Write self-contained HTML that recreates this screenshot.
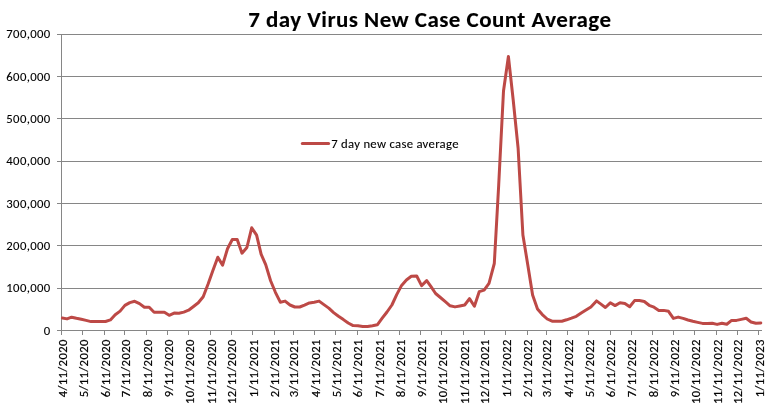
<!DOCTYPE html><html><head><meta charset="utf-8"><title>7 day Virus New Case Count Average</title>
<style>html,body{margin:0;padding:0;background:#fff;}svg{display:block;}text{font-family:Carlito, 'Liberation Sans', sans-serif;fill:#000;stroke:#000;stroke-width:0.1px;}</style></head><body>
<svg width="784" height="410" viewBox="0 0 784 410">
<rect width="784" height="410" fill="#fff"/>
<path d="M57 34.5H762M57 76.5H762M57 118.5H762M57 161.5H762M57 203.5H762M57 245.5H762M57 288.5H762M57 330.5H762M61.5 34V335M61.5 330V335M82.5 330V335M104.5 330V335M124.5 330V335M146.5 330V335M167.5 330V335M188.5 330V335M210.5 330V335M231.5 330V335M252.5 330V335M274.5 330V335M293.5 330V335M314.5 330V335M335.5 330V335M357.5 330V335M378.5 330V335M399.5 330V335M420.5 330V335M441.5 330V335M463.5 330V335M484.5 330V335M505.5 330V335M527.5 330V335M546.5 330V335M567.5 330V335M588.5 330V335M610.5 330V335M631.5 330V335M652.5 330V335M673.5 330V335M694.5 330V335M716.5 330V335M737.5 330V335M758.5 330V335" stroke="#868686" stroke-width="1" fill="none" shape-rendering="crispEdges"/>
<text x="50.24" y="38.1" font-size="12.7" textLength="43.91" lengthAdjust="spacing" text-anchor="end">700,000</text>
<text x="50.24" y="80.7" font-size="12.7" textLength="43.91" lengthAdjust="spacing" text-anchor="end">600,000</text>
<text x="50.24" y="123.1" font-size="12.7" textLength="43.91" lengthAdjust="spacing" text-anchor="end">500,000</text>
<text x="50.24" y="164.9" font-size="12.7" textLength="43.91" lengthAdjust="spacing" text-anchor="end">400,000</text>
<text x="50.24" y="207.7" font-size="12.7" textLength="43.91" lengthAdjust="spacing" text-anchor="end">300,000</text>
<text x="50.24" y="249.7" font-size="12.7" textLength="43.91" lengthAdjust="spacing" text-anchor="end">200,000</text>
<text x="50.24" y="292.0" font-size="12.7" textLength="43.91" lengthAdjust="spacing" text-anchor="end">100,000</text>
<text x="50.24" y="334.7" font-size="12.7" textLength="6.44" lengthAdjust="spacing" text-anchor="end">0</text>
<text transform="translate(66.60 339.6) rotate(-90)" style="stroke-width:0.2px" font-size="12.7" textLength="57.71" lengthAdjust="spacing" text-anchor="end">4/11/2020</text>
<text transform="translate(87.90 339.6) rotate(-90)" style="stroke-width:0.2px" font-size="12.7" textLength="57.71" lengthAdjust="spacing" text-anchor="end">5/11/2020</text>
<text transform="translate(109.90 339.6) rotate(-90)" style="stroke-width:0.2px" font-size="12.7" textLength="57.71" lengthAdjust="spacing" text-anchor="end">6/11/2020</text>
<text transform="translate(129.90 339.6) rotate(-90)" style="stroke-width:0.2px" font-size="12.7" textLength="57.71" lengthAdjust="spacing" text-anchor="end">7/11/2020</text>
<text transform="translate(151.90 339.6) rotate(-90)" style="stroke-width:0.2px" font-size="12.7" textLength="57.71" lengthAdjust="spacing" text-anchor="end">8/11/2020</text>
<text transform="translate(172.90 339.6) rotate(-90)" style="stroke-width:0.2px" font-size="12.7" textLength="57.71" lengthAdjust="spacing" text-anchor="end">9/11/2020</text>
<text transform="translate(193.90 339.6) rotate(-90)" style="stroke-width:0.2px" font-size="12.7" textLength="64.49" lengthAdjust="spacing" text-anchor="end">10/11/2020</text>
<text transform="translate(215.90 339.6) rotate(-90)" style="stroke-width:0.2px" font-size="12.7" textLength="64.49" lengthAdjust="spacing" text-anchor="end">11/11/2020</text>
<text transform="translate(236.13 339.6) rotate(-90)" style="stroke-width:0.2px" font-size="12.7" textLength="64.49" lengthAdjust="spacing" text-anchor="end">12/11/2020</text>
<text transform="translate(257.90 339.6) rotate(-90)" style="stroke-width:0.2px" font-size="12.7" textLength="57.71" lengthAdjust="spacing" text-anchor="end">1/11/2021</text>
<text transform="translate(278.83 339.6) rotate(-90)" style="stroke-width:0.2px" font-size="12.7" textLength="57.71" lengthAdjust="spacing" text-anchor="end">2/11/2021</text>
<text transform="translate(298.13 339.6) rotate(-90)" style="stroke-width:0.2px" font-size="12.7" textLength="57.71" lengthAdjust="spacing" text-anchor="end">3/11/2021</text>
<text transform="translate(319.60 339.6) rotate(-90)" style="stroke-width:0.2px" font-size="12.7" textLength="57.71" lengthAdjust="spacing" text-anchor="end">4/11/2021</text>
<text transform="translate(340.90 339.6) rotate(-90)" style="stroke-width:0.2px" font-size="12.7" textLength="57.71" lengthAdjust="spacing" text-anchor="end">5/11/2021</text>
<text transform="translate(362.13 339.6) rotate(-90)" style="stroke-width:0.2px" font-size="12.7" textLength="57.71" lengthAdjust="spacing" text-anchor="end">6/11/2021</text>
<text transform="translate(383.90 339.6) rotate(-90)" style="stroke-width:0.2px" font-size="12.7" textLength="57.71" lengthAdjust="spacing" text-anchor="end">7/11/2021</text>
<text transform="translate(404.90 339.6) rotate(-90)" style="stroke-width:0.2px" font-size="12.7" textLength="57.71" lengthAdjust="spacing" text-anchor="end">8/11/2021</text>
<text transform="translate(425.90 339.6) rotate(-90)" style="stroke-width:0.2px" font-size="12.7" textLength="57.71" lengthAdjust="spacing" text-anchor="end">9/11/2021</text>
<text transform="translate(446.90 339.6) rotate(-90)" style="stroke-width:0.2px" font-size="12.7" textLength="64.49" lengthAdjust="spacing" text-anchor="end">10/11/2021</text>
<text transform="translate(468.90 339.6) rotate(-90)" style="stroke-width:0.2px" font-size="12.7" textLength="64.49" lengthAdjust="spacing" text-anchor="end">11/11/2021</text>
<text transform="translate(489.45 339.6) rotate(-90)" style="stroke-width:0.2px" font-size="12.7" textLength="64.49" lengthAdjust="spacing" text-anchor="end">12/11/2021</text>
<text transform="translate(510.90 339.6) rotate(-90)" style="stroke-width:0.2px" font-size="12.7" textLength="57.71" lengthAdjust="spacing" text-anchor="end">1/11/2022</text>
<text transform="translate(532.45 339.6) rotate(-90)" style="stroke-width:0.2px" font-size="12.7" textLength="57.71" lengthAdjust="spacing" text-anchor="end">2/11/2022</text>
<text transform="translate(551.45 339.6) rotate(-90)" style="stroke-width:0.2px" font-size="12.7" textLength="57.71" lengthAdjust="spacing" text-anchor="end">3/11/2022</text>
<text transform="translate(572.60 339.6) rotate(-90)" style="stroke-width:0.2px" font-size="12.7" textLength="57.71" lengthAdjust="spacing" text-anchor="end">4/11/2022</text>
<text transform="translate(593.90 339.6) rotate(-90)" style="stroke-width:0.2px" font-size="12.7" textLength="57.71" lengthAdjust="spacing" text-anchor="end">5/11/2022</text>
<text transform="translate(615.13 339.6) rotate(-90)" style="stroke-width:0.2px" font-size="12.7" textLength="57.71" lengthAdjust="spacing" text-anchor="end">6/11/2022</text>
<text transform="translate(636.13 339.6) rotate(-90)" style="stroke-width:0.2px" font-size="12.7" textLength="57.71" lengthAdjust="spacing" text-anchor="end">7/11/2022</text>
<text transform="translate(657.90 339.6) rotate(-90)" style="stroke-width:0.2px" font-size="12.7" textLength="57.71" lengthAdjust="spacing" text-anchor="end">8/11/2022</text>
<text transform="translate(678.90 339.6) rotate(-90)" style="stroke-width:0.2px" font-size="12.7" textLength="57.71" lengthAdjust="spacing" text-anchor="end">9/11/2022</text>
<text transform="translate(699.90 339.6) rotate(-90)" style="stroke-width:0.2px" font-size="12.7" textLength="64.49" lengthAdjust="spacing" text-anchor="end">10/11/2022</text>
<text transform="translate(721.90 339.6) rotate(-90)" style="stroke-width:0.2px" font-size="12.7" textLength="64.49" lengthAdjust="spacing" text-anchor="end">11/11/2022</text>
<text transform="translate(742.13 339.6) rotate(-90)" style="stroke-width:0.2px" font-size="12.7" textLength="64.49" lengthAdjust="spacing" text-anchor="end">12/11/2022</text>
<text transform="translate(763.90 339.6) rotate(-90)" style="stroke-width:0.2px" font-size="12.7" textLength="57.71" lengthAdjust="spacing" text-anchor="end">1/11/2023</text>
<text x="248.3" y="26.7" font-size="23" textLength="362.72" lengthAdjust="spacing" font-weight="bold" style="stroke-width:0.1px">7 day Virus New Case Count Average</text>
<path d="M302.3 143.5H328.6" stroke="#BD4946" stroke-width="3" stroke-linecap="round"/>
<text x="331.2" y="148" font-size="12.7" textLength="127.27" lengthAdjust="spacing">7 day new case average</text>
<polyline points="62.4,318.0 67.0,318.9 71.6,317.2 76.4,318.3 81.3,319.3 86.1,320.4 91.0,321.6 95.8,321.6 100.7,321.6 105.5,321.5 110.4,319.9 115.2,314.7 120.1,311.1 124.9,305.4 129.8,302.6 134.7,301.3 139.5,303.6 144.4,307.3 149.2,307.3 154.1,312.3 159.2,312.3 164.4,312.3 169.2,315.3 174.1,313.1 178.9,313.3 183.8,312.1 188.6,310.2 193.5,306.5 198.3,302.8 203.2,296.7 208.1,284.0 212.9,270.6 217.8,257.2 222.6,265.1 227.5,248.8 232.3,239.5 237.2,239.5 242.0,253.2 246.9,247.5 251.7,227.8 256.6,235.2 261.1,254.2 265.7,264.6 270.6,280.7 275.4,292.3 280.3,302.2 285.1,301.1 290.0,305.0 294.8,307.0 299.7,307.0 304.5,305.1 309.4,302.9 314.2,302.2 319.1,301.1 323.9,304.6 328.8,308.1 333.6,312.6 338.5,316.3 343.4,319.6 348.2,323.0 353.1,325.6 357.9,325.8 362.8,326.5 367.6,326.6 372.5,325.8 377.3,324.8 382.2,318.2 387.0,312.0 391.9,305.0 396.7,294.6 401.6,285.4 406.4,280.0 411.3,276.3 416.7,276.0 421.6,285.6 426.7,280.6 431.0,286.7 435.6,293.5 440.4,297.5 445.3,301.6 450.1,305.8 455.0,306.9 459.8,306.0 464.7,305.0 469.5,298.6 474.4,306.2 479.3,291.6 484.1,290.1 489.0,283.3 494.3,263.5 498.7,185.0 503.5,91.0 508.4,56.5 513.2,100.0 518.1,148.0 522.9,235.0 527.8,265.0 532.6,295.0 537.5,309.0 542.3,314.6 547.2,319.0 552.1,321.2 556.9,321.2 561.8,321.2 566.6,319.8 571.5,318.1 576.3,316.3 581.2,313.0 586.0,310.0 590.9,307.0 596.5,300.9 600.6,303.9 605.4,307.5 610.3,302.8 615.1,305.6 620.0,302.8 624.9,303.4 629.7,306.7 634.6,300.6 639.4,300.6 644.3,301.5 649.1,305.3 654.0,307.2 658.8,310.4 663.7,310.4 668.5,311.3 673.4,318.4 678.2,317.1 683.1,318.4 688.0,320.0 692.8,321.3 697.7,322.4 702.5,323.4 707.4,323.4 712.2,323.3 717.1,324.4 721.9,323.2 726.8,324.2 731.6,320.4 736.5,320.4 741.3,319.4 746.2,318.3 751.0,322.0 755.9,323.3 760.8,322.9" fill="none" stroke="#BD4946" stroke-width="3" stroke-linejoin="round" stroke-linecap="round"/>
</svg></body></html>
